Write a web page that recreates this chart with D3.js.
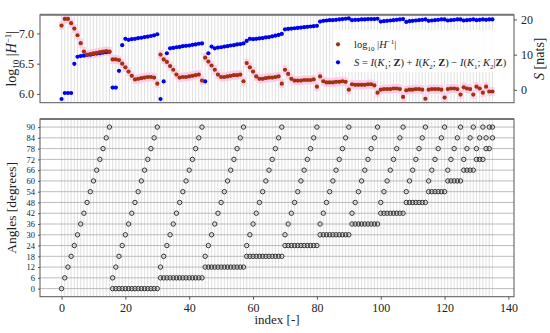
<!DOCTYPE html>
<html>
<head>
<meta charset="utf-8">
<script src="https://cdn.jsdelivr.net/npm/d3@7"></script>
<style>
  body { margin: 0; background: #fff; }
  svg { display: block; }
  text { font-family: "Liberation Serif", "DejaVu Serif", serif; fill: #222; }
</style>
</head>
<body>
<div id="chart"></div>
<script>
// tick labels
const xTicks = [0, 20, 40, 60, 80, 100, 120, 140];
const hTicks = [6.0, 6.5, 7.0];
const sTicks = [0, 10, 20];
const angleTicks = [0, 6, 12, 18, 24, 30, 36, 42, 48, 54, 60, 66, 72, 78, 84, 90];

// top panel: log10|H^-1| (brown) per index
const logDetH = [
  7.13, 7.24, 7.24, 7.17, 7.08, 6.97, 6.84, 6.70, 6.65, 6.66, 6.67, 6.68, 6.69, 6.70, 6.71, 6.70,
  6.57, 6.57, 6.56, 6.50, 6.44, 6.37, 6.30, 6.24, 6.25, 6.26, 6.27, 6.28, 6.28, 6.27, 6.17,
  6.65, 6.57, 6.53, 6.46, 6.40, 6.32, 6.27, 6.28, 6.28, 6.29, 6.30, 6.31, 6.32, 6.22,
  6.60, 6.535, 6.47, 6.40, 6.32, 6.28, 6.28, 6.29, 6.30, 6.31, 6.31, 6.32, 6.21,
  6.51, 6.44, 6.37, 6.29, 6.25, 6.25, 6.26, 6.27, 6.27, 6.28, 6.29, 6.17,
  6.40, 6.33, 6.25, 6.22, 6.22, 6.22, 6.23, 6.23, 6.23, 6.24, 6.12,
  6.29, 6.21, 6.19, 6.19, 6.19, 6.20, 6.20, 6.21, 6.20, 6.07,
  6.16, 6.15, 6.15, 6.15, 6.15, 6.16, 6.16, 6.14, 6.02,
  6.07, 6.08, 6.08, 6.08, 6.09, 6.09, 6.08, 5.95,
  6.06, 6.07, 6.07, 6.08, 6.08, 6.07, 5.92,
  6.07, 6.08, 6.08, 6.08, 6.07, 5.94,
  6.08, 6.09, 6.09, 6.08, 5.99,
  6.11, 6.09, 6.08, 5.99,
  6.12, 6.09, 6.02,
  6.12, 6.04,
  6.04
];

// top panel: S [nats] (blue) per index
const infoS = [
  -2.6, -0.9, -0.9, -0.9, 7.4, 9.4, 9.6, 9.7, 9.9, 10.0, 10.2, 10.3, 10.4, 10.6, 10.7, 10.8,
  0.65, 0.65, 5.4, 12.7, 14.5, 14.2, 14.4, 14.5, 14.7, 14.8, 15.0, 15.1, 15.3, 15.5, 15.8,
  -2.6, 2.4, 10.4, 11.8, 11.9, 12.1, 12.2, 12.4, 12.5, 12.6, 12.8, 12.9, 13.1, 13.2,
  2.4, 10.4, 12.3, 11.8, 12.0, 12.1, 12.3, 12.4, 12.6, 12.7, 12.9, 13.0, 13.2,
  13.9, 14.5, 14.4, 14.5, 14.6, 14.7, 14.9, 15.0, 15.2, 15.4, 15.6, 15.9,
  17.2, 17.3, 17.4, 17.5, 17.6, 17.7, 17.8, 17.9, 18.0, 18.1, 18.2,
  19.4, 19.6, 19.7, 19.8, 19.8, 19.9, 20.0, 20.1, 20.2, 20.3,
  19.8, 19.9, 19.9, 20.0, 20.0, 20.1, 20.1, 20.1, 20.2,
  19.4, 19.5, 19.6, 19.7, 19.8, 19.9, 20.0, 20.1,
  19.3, 19.5, 19.6, 19.7, 19.8, 19.9, 20.0,
  19.6, 19.7, 19.8, 19.9, 20.0, 20.0,
  19.7, 19.8, 19.9, 20.0, 20.0,
  19.7, 19.8, 19.9, 20.0,
  19.8, 19.9, 20.0,
  19.9, 20.0,
  20.0
];

// bottom panel: swept angle per index
const angleSweep = [
  0, 6, 12, 18, 24, 30, 36, 42, 48, 54, 60, 66, 72, 78, 84, 90,
  6, 12, 18, 24, 30, 36, 42, 48, 54, 60, 66, 72, 78, 84, 90,
  12, 18, 24, 30, 36, 42, 48, 54, 60, 66, 72, 78, 84, 90,
  18, 24, 30, 36, 42, 48, 54, 60, 66, 72, 78, 84, 90,
  24, 30, 36, 42, 48, 54, 60, 66, 72, 78, 84, 90,
  30, 36, 42, 48, 54, 60, 66, 72, 78, 84, 90,
  36, 42, 48, 54, 60, 66, 72, 78, 84, 90,
  42, 48, 54, 60, 66, 72, 78, 84, 90,
  48, 54, 60, 66, 72, 78, 84, 90,
  54, 60, 66, 72, 78, 84, 90,
  60, 66, 72, 78, 84, 90,
  66, 72, 78, 84, 90,
  72, 78, 84, 90,
  78, 84, 90,
  84, 90,
  90
];

// bottom panel: fixed angle per index (none in the first block)
const angleFixed = [
  null, null, null, null, null, null, null, null, null, null, null, null, null, null, null, null,
  0, 0, 0, 0, 0, 0, 0, 0, 0, 0, 0, 0, 0, 0, 0,
  6, 6, 6, 6, 6, 6, 6, 6, 6, 6, 6, 6, 6, 6,
  12, 12, 12, 12, 12, 12, 12, 12, 12, 12, 12, 12, 12,
  18, 18, 18, 18, 18, 18, 18, 18, 18, 18, 18, 18,
  24, 24, 24, 24, 24, 24, 24, 24, 24, 24, 24,
  30, 30, 30, 30, 30, 30, 30, 30, 30, 30,
  36, 36, 36, 36, 36, 36, 36, 36, 36,
  42, 42, 42, 42, 42, 42, 42, 42,
  48, 48, 48, 48, 48, 48, 48,
  54, 54, 54, 54, 54, 54,
  60, 60, 60, 60, 60,
  66, 66, 66, 66,
  72, 72, 72,
  78, 78,
  84
];

const W = 550, H = 333;
const left = 40, right = 514;
const top1 = 14.7, bot1 = 102.7;
const top2 = 119, bot2 = 296.7;
const brown = '#a3300f', blue = '#0000f0';

const svg = d3.select('#chart').append('svg')
    .attr('width', W)
    .attr('height', H);

let x = d3.scaleLinear().domain([-6.75, 141.75]).range([left, right]);
let yH = d3.scaleLinear().domain([5.855, 7.31]).range([bot1, top1]);
let yS = d3.scaleLinear().domain([-3.65, 21.35]).range([bot1, top1]);
let yA = d3.scaleLinear().domain([-4.5, 94.5]).range([bot2, top2]);

const idx = logDetH.map((d, i) => i);

// ---------- top panel ----------
const g1 = svg.append('g');

g1.selectAll('line.vgrid')
    .data(idx)
    .enter().append('line')
    .attr('x1', d => x(d)).attr('x2', d => x(d))
    .attr('y1', top1).attr('y2', bot1)
    .attr('stroke', '#d2d2d2')
    .attr('stroke-width', 0.7);

// pink band around the brown series
g1.selectAll('rect.band')
    .data(logDetH)
    .enter().append('rect')
    .attr('x', (d, i) => x(i) - 2.2)
    .attr('y', d => yH(d + 0.075))
    .attr('width', 4.4)
    .attr('height', d => yH(d - 0.075) - yH(d + 0.075))
    .attr('fill', '#ffc4e4')
    .attr('opacity', 0.75);

g1.selectAll('circle.s')
    .data(infoS)
    .enter().append('circle')
    .attr('cx', (d, i) => x(i))
    .attr('cy', d => yS(d))
    .attr('r', 2.1)
    .attr('fill', blue);

g1.selectAll('circle.h')
    .data(logDetH)
    .enter().append('circle')
    .attr('cx', (d, i) => x(i))
    .attr('cy', d => yH(d))
    .attr('r', 2.1)
    .attr('fill', brown);

g1.append('rect')
    .attr('x', left).attr('y', top1)
    .attr('width', right - left).attr('height', bot1 - top1)
    .attr('fill', 'none').attr('stroke', '#555').attr('stroke-width', 1);
g1.append('line')
    .attr('x1', left).attr('x2', right).attr('y1', top1).attr('y2', top1)
    .attr('stroke', '#777').attr('stroke-width', 2);

let axH = g1.append('g')
    .attr('transform', 'translate(' + left + ',0)')
    .call(d3.axisLeft(yH).tickValues(hTicks).tickFormat(d3.format('.1f')).tickSize(3).tickPadding(3));
let axS = g1.append('g')
    .attr('transform', 'translate(' + right + ',0)')
    .call(d3.axisRight(yS).tickValues(sTicks).tickSize(3).tickPadding(4));
[axH, axS].forEach(a => {
    a.select('.domain').remove();
    a.selectAll('line').attr('stroke', '#555');
    a.selectAll('text').style('font-size', '12px').attr('fill', '#333')
        .style('font-family', '"Liberation Serif", serif');
});

// legend
const leg = g1.append('g');
leg.append('rect')
    .attr('x', 333).attr('y', 30).attr('width', 180).attr('height', 42)
    .attr('fill', '#fff').attr('opacity', 0.9);
leg.append('circle').attr('cx', 338).attr('cy', 44.3).attr('r', 2.1).attr('fill', brown);
leg.append('circle').attr('cx', 338).attr('cy', 62.3).attr('r', 2.1).attr('fill', blue);

function rich(sel, parts) {
    parts.forEach(p => {
        let t = sel.append('tspan').text(p.t);
        if (p.it) t.style('font-style', 'italic');
        if (p.b) t.style('font-weight', 'bold');
        if (p.fs) t.style('font-size', p.fs);
        if (p.dy) t.attr('dy', p.dy);
    });
}

let l1 = leg.append('text').attr('x', 354).attr('y', 48).style('font-size', '10.5px').attr('fill', '#444');
rich(l1, [
    {t: 'log'}, {t: '10', fs: '7px', dy: 2.5}, {t: ' |', dy: -2.5}, {t: 'H', it: true},
    {t: '−1', fs: '7px', dy: -4}, {t: '|', dy: 4}
]);
let l2 = leg.append('text').attr('x', 354).attr('y', 66).style('font-size', '10.5px').attr('fill', '#444');
rich(l2, [
    {t: 'S', it: true}, {t: ' = '}, {t: 'I', it: true}, {t: '('}, {t: 'K', it: true},
    {t: '1', fs: '7px', dy: 2.5}, {t: '; ', dy: -2.5}, {t: 'Z', b: true}, {t: ') + '},
    {t: 'I', it: true}, {t: '('}, {t: 'K', it: true}, {t: '2', fs: '7px', dy: 2.5},
    {t: '; ', dy: -2.5}, {t: 'Z', b: true}, {t: ') − '}, {t: 'I', it: true}, {t: '('},
    {t: 'K', it: true}, {t: '1', fs: '7px', dy: 2.5}, {t: '; ', dy: -2.5}, {t: 'K', it: true},
    {t: '2', fs: '7px', dy: 2.5}, {t: '|', dy: -2.5}, {t: 'Z', b: true}, {t: ')'}
]);

// axis titles
let tl = svg.append('text')
    .attr('transform', 'translate(16,' + ((top1 + bot1) / 2) + ') rotate(-90)')
    .attr('text-anchor', 'middle')
    .style('font-size', '14px');
rich(tl, [
    {t: 'log'}, {t: '10', fs: '9px', dy: 3}, {t: ' |', dy: -3}, {t: 'H', it: true},
    {t: '−1', fs: '9px', dy: -5}, {t: '|', dy: 5}
]);
let tr = svg.append('text')
    .attr('transform', 'translate(544,' + ((top1 + bot1) / 2) + ') rotate(-90)')
    .attr('text-anchor', 'middle')
    .style('font-size', '14px');
rich(tr, [{t: 'S', it: true}, {t: ' [nats]'}]);

// ---------- bottom panel ----------
const g2 = svg.append('g');

g2.selectAll('line.vgrid')
    .data(idx)
    .enter().append('line')
    .attr('x1', d => x(d)).attr('x2', d => x(d))
    .attr('y1', top2).attr('y2', bot2)
    .attr('stroke', '#d2d2d2')
    .attr('stroke-width', 0.7);

g2.selectAll('line.hgrid')
    .data(angleTicks)
    .enter().append('line')
    .attr('x1', left).attr('x2', right)
    .attr('y1', d => yA(d)).attr('y2', d => yA(d))
    .attr('stroke', '#b4b4b4')
    .attr('stroke-width', 0.9);

const pts = [];
angleSweep.forEach((d, i) => pts.push([i, d]));
angleFixed.forEach((d, i) => { if (d !== null) pts.push([i, d]); });

g2.selectAll('circle.a')
    .data(pts)
    .enter().append('circle')
    .attr('cx', d => x(d[0]))
    .attr('cy', d => yA(d[1]))
    .attr('r', 2.2)
    .attr('fill', 'none')
    .attr('stroke', '#333')
    .attr('stroke-width', 1);

g2.append('rect')
    .attr('x', left).attr('y', top2)
    .attr('width', right - left).attr('height', bot2 - top2)
    .attr('fill', 'none').attr('stroke', '#555').attr('stroke-width', 1);
g2.append('line')
    .attr('x1', left).attr('x2', right).attr('y1', top2).attr('y2', top2)
    .attr('stroke', '#666').attr('stroke-width', 1.5);

let axX = g2.append('g')
    .attr('transform', 'translate(0,' + bot2 + ')')
    .call(d3.axisBottom(x).tickValues(xTicks).tickSize(3).tickPadding(4));
let axA = g2.append('g')
    .attr('transform', 'translate(' + left + ',0)')
    .call(d3.axisLeft(yA).tickValues(angleTicks).tickSize(2).tickPadding(3));
[axX, axA].forEach(a => {
    a.select('.domain').remove();
    a.selectAll('line').attr('stroke', '#555');
    a.selectAll('text').attr('fill', '#333').style('font-family', '"Liberation Serif", serif');
});
axX.selectAll('text').style('font-size', '12px');
axA.selectAll('text').style('font-size', '8.5px');

svg.append('text')
    .attr('x', (left + right) / 2).attr('y', 324)
    .attr('text-anchor', 'middle')
    .style('font-size', '13px')
    .text('index [-]');

svg.append('text')
    .attr('transform', 'translate(16,' + ((top2 + bot2) / 2) + ') rotate(-90)')
    .attr('text-anchor', 'middle')
    .style('font-size', '13.5px')
    .text('Angles [degrees]');
</script>
</body>
</html>
